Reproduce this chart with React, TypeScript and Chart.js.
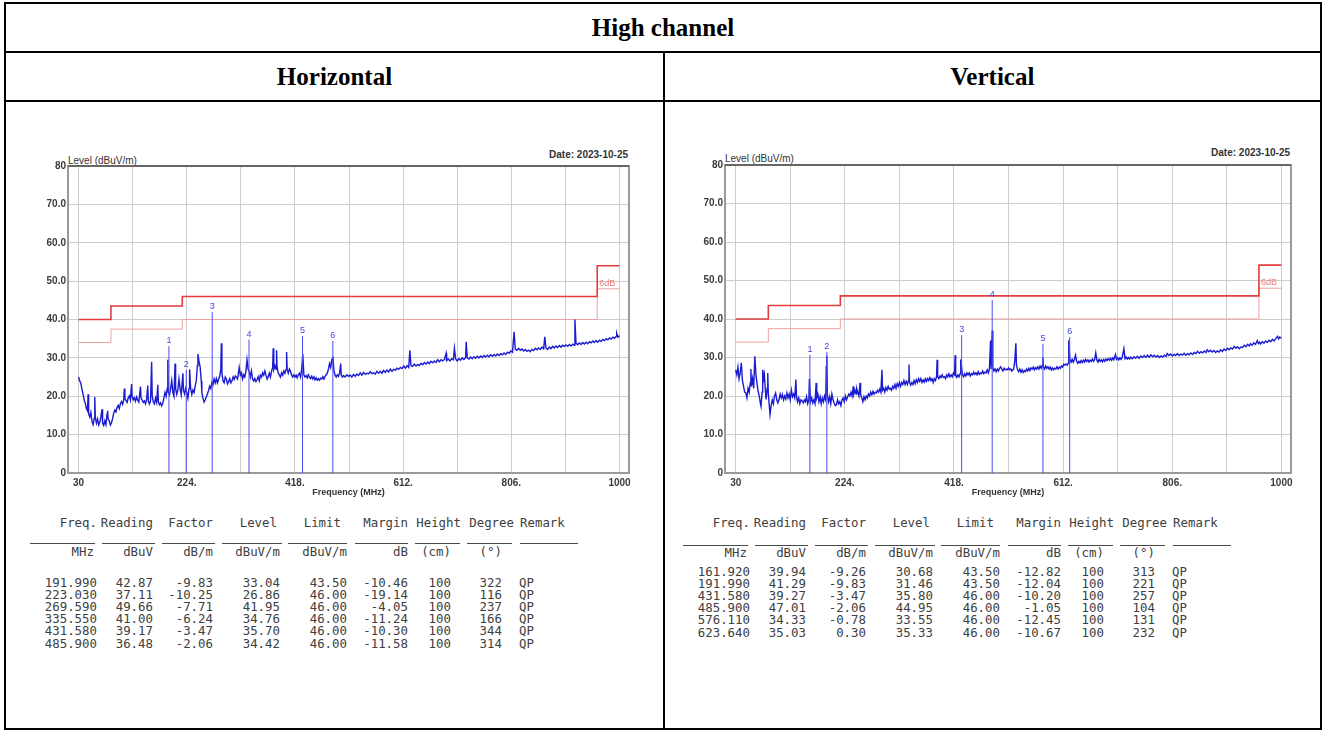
import React, { useEffect, useRef } from 'react';
import { Chart, registerables } from 'chart.js';
Chart.register(...registerables);

type Pt = [number, number];

// ---------- data ----------
const TITLE = 'High channel';
const POLARITIES = ['Horizontal', 'Vertical'];
const DATE_TEXT = 'Date: 2023-10-25';
const Y_TITLE = 'Level (dBuV/m)';
const X_TITLE = 'Frequency (MHz)';

const X_GRID = [30, 127, 224, 321, 418, 515, 612, 709, 806, 903, 1000];
const X_LABELS: Record<number, string> = { 30: '30', 224: '224.', 418: '418.', 612: '612.', 806: '806.', 1000: '1000' };
const Y_TICKS = [0, 10, 20, 30, 40, 50, 60, 70, 80];

const LIMIT: Pt[] = [[30, 40], [88, 40], [88, 43.5], [216, 43.5], [216, 46], [960, 46], [960, 54], [1000, 54]];
const LIMIT_6DB: Pt[] = [[30, 34], [88, 34], [88, 37.5], [216, 37.5], [216, 40], [960, 40], [960, 48], [1000, 48]];

const TABLE_HEAD = ['Freq.', 'Reading', 'Factor', 'Level', 'Limit', 'Margin', 'Height', 'Degree', 'Remark'];
const TABLE_UNITS = ['MHz', 'dBuV', 'dB/m', 'dBuV/m', 'dBuV/m', 'dB', '(cm)', '(°)'];

const H_ROWS = [
  ['191.990', '42.87', '-9.83', '33.04', '43.50', '-10.46', '100', '322', 'QP'],
  ['223.030', '37.11', '-10.25', '26.86', '46.00', '-19.14', '100', '116', 'QP'],
  ['269.590', '49.66', '-7.71', '41.95', '46.00', '-4.05', '100', '237', 'QP'],
  ['335.550', '41.00', '-6.24', '34.76', '46.00', '-11.24', '100', '166', 'QP'],
  ['431.580', '39.17', '-3.47', '35.70', '46.00', '-10.30', '100', '344', 'QP'],
  ['485.900', '36.48', '-2.06', '34.42', '46.00', '-11.58', '100', '314', 'QP'],
];
const V_ROWS = [
  ['161.920', '39.94', '-9.26', '30.68', '43.50', '-12.82', '100', '313', 'QP'],
  ['191.990', '41.29', '-9.83', '31.46', '43.50', '-12.04', '100', '221', 'QP'],
  ['431.580', '39.27', '-3.47', '35.80', '46.00', '-10.20', '100', '257', 'QP'],
  ['485.900', '47.01', '-2.06', '44.95', '46.00', '-1.05', '100', '104', 'QP'],
  ['576.110', '34.33', '-0.78', '33.55', '46.00', '-12.45', '100', '131', 'QP'],
  ['623.640', '35.03', '0.30', '35.33', '46.00', '-10.67', '100', '232', 'QP'],
];

const H_TRACE: Pt[] = [
  [30, 25.0], [32, 24.0], [34, 23.4], [36, 21.8], [38, 20.6], [40, 19.0], [42, 18.2], [44, 16.8], [46, 16.2], [47, 20.5],
  [48, 15.4], [50, 14.6], [52, 15.8], [54, 13.4], [56, 12.6], [58, 14.2], [59, 19.8], [60, 14.4], [62, 13.0], [64, 14.1],
  [66, 12.5], [68, 13.2], [70, 14.6], [72, 16.6], [73, 13.0], [75, 12.4], [77, 13.6], [79, 12.6], [81, 15.4], [82, 16.2],
  [83, 14.0], [85, 13.6], [87, 12.5], [89, 13.1], [91, 14.2], [93, 15.6], [95, 16.4], [97, 15.9], [99, 17.1], [101, 17.6],
  [103, 16.8], [105, 18.1], [107, 18.6], [109, 17.9], [111, 19.1], [112, 22.0], [113, 19.4], [115, 18.9], [117, 18.4], [119, 19.6],
  [121, 20.1], [123, 19.0], [125, 23.2], [126, 20.0], [128, 19.1], [130, 19.6], [132, 18.7], [134, 19.8], [136, 19.0], [138, 18.5],
  [141, 22.5], [142, 19.5], [144, 19.0], [146, 18.4], [148, 18.8], [150, 18.0], [152, 19.2], [154, 22.8], [155, 18.8], [157, 18.0],
  [159, 18.8], [161, 29.0], [162, 20.0], [164, 18.5], [166, 18.0], [168, 19.5], [170, 18.4], [172, 23.0], [173, 18.6], [175, 17.8],
  [177, 18.3], [179, 17.5], [181, 18.2], [183, 19.6], [185, 21.0], [187, 20.0], [189, 22.1], [190, 29.5], [191, 21.0], [193, 20.4],
  [195, 22.0], [197, 24.1], [199, 21.0], [201, 20.0], [203, 28.5], [204, 22.0], [206, 20.5], [208, 21.6], [210, 24.5], [212, 22.0],
  [214, 20.4], [217, 26.0], [218, 21.5], [220, 20.6], [222, 22.1], [224, 21.0], [226, 19.5], [228, 22.0], [229, 27.0], [231, 22.0],
  [233, 20.5], [235, 21.6], [237, 21.0], [239, 22.6], [241, 24.0], [243, 28.0], [244, 31.0], [246, 29.0], [248, 27.6], [250, 24.0],
  [251, 21.0], [253, 19.5], [255, 18.5], [257, 19.1], [259, 19.8], [261, 20.6], [263, 21.5], [265, 22.6], [267, 22.0], [269, 23.6],
  [271, 23.0], [273, 24.5], [275, 23.5], [277, 24.6], [279, 23.5], [281, 24.5], [283, 25.1], [285, 27.0], [286, 33.8], [287, 26.0],
  [289, 24.0], [291, 23.5], [293, 25.0], [295, 24.5], [297, 23.2], [299, 23.8], [301, 24.6], [303, 23.5], [305, 24.0], [307, 25.0],
  [309, 24.4], [311, 25.3], [313, 25.0], [315, 24.5], [318, 27.5], [320, 25.5], [322, 26.1], [324, 24.5], [326, 25.6], [328, 25.0],
  [330, 26.5], [332, 29.5], [334, 27.0], [336, 26.5], [338, 25.0], [340, 26.6], [342, 24.5], [344, 24.0], [346, 24.6], [348, 23.8],
  [350, 24.3], [352, 25.1], [354, 24.0], [356, 25.5], [358, 25.0], [360, 26.1], [362, 25.5], [364, 26.6], [366, 25.5], [368, 24.5],
  [370, 25.1], [372, 26.0], [374, 25.0], [376, 26.5], [378, 27.6], [379, 32.5], [380, 27.0], [382, 28.0], [384, 27.0], [385, 32.0],
  [386, 27.5], [388, 26.0], [390, 25.5], [392, 25.0], [394, 26.1], [396, 25.5], [398, 26.6], [400, 26.0], [402, 27.0], [403, 31.5],
  [404, 27.0], [406, 26.0], [408, 27.1], [410, 26.5], [412, 25.5], [414, 25.0], [416, 25.6], [418, 25.0], [420, 25.5], [422, 24.8],
  [424, 25.6], [426, 26.0], [428, 25.0], [430, 27.0], [432, 31.0], [434, 25.5], [436, 25.0], [438, 25.4], [440, 24.8], [442, 25.6],
  [444, 25.0], [446, 24.6], [448, 25.2], [450, 24.5], [452, 25.1], [454, 24.3], [456, 24.8], [458, 24.2], [460, 24.6], [462, 24.2],
  [464, 24.7], [466, 24.5], [468, 25.1], [470, 24.5], [472, 25.2], [474, 25.6], [476, 26.0], [478, 27.1], [480, 28.5], [482, 27.5],
  [484, 29.5], [486, 30.0], [488, 26.5], [490, 25.5], [492, 25.0], [494, 25.6], [496, 25.2], [498, 26.0], [500, 28.5], [501, 25.5],
  [503, 25.0], [505, 25.4], [508, 25.0], [511, 25.6], [514, 25.2], [517, 25.5], [520, 25.0], [523, 25.7], [526, 25.2], [529, 25.8],
  [532, 25.4], [535, 26.1], [538, 25.5], [541, 26.2], [544, 25.7], [547, 26.0], [550, 25.8], [553, 26.4], [556, 25.9], [559, 26.1],
  [562, 25.8], [565, 26.5], [568, 26.0], [571, 26.5], [574, 26.0], [577, 26.7], [580, 26.2], [583, 26.8], [586, 26.3], [589, 27.1],
  [592, 26.5], [595, 27.0], [598, 26.8], [601, 27.3], [604, 27.0], [607, 27.5], [610, 27.2], [613, 27.9], [616, 27.3], [619, 28.0],
  [622, 27.5], [624, 32.0], [626, 28.0], [629, 27.8], [632, 28.4], [635, 27.9], [638, 28.3], [641, 28.0], [644, 28.6], [647, 28.2],
  [650, 28.8], [653, 28.4], [656, 28.9], [659, 28.5], [662, 29.1], [665, 28.7], [668, 29.2], [671, 28.8], [674, 29.5], [677, 29.0],
  [680, 29.5], [683, 29.2], [686, 29.6], [689, 31.2], [690, 29.3], [693, 29.7], [696, 29.2], [699, 29.8], [702, 29.5], [704, 32.5],
  [706, 29.8], [709, 29.2], [712, 29.8], [715, 29.4], [718, 30.0], [721, 29.6], [724, 30.1], [725, 34.2], [727, 30.0], [730, 29.7],
  [733, 30.2], [736, 29.8], [739, 30.3], [742, 29.9], [745, 30.4], [748, 30.0], [751, 30.5], [754, 30.1], [757, 30.6], [760, 30.2],
  [763, 30.7], [766, 30.3], [769, 30.8], [772, 30.4], [775, 30.9], [778, 30.5], [781, 31.0], [784, 30.6], [787, 31.1], [790, 30.8],
  [793, 31.3], [796, 30.9], [799, 31.5], [802, 31.2], [805, 31.8], [808, 31.5], [811, 36.8], [813, 32.3], [816, 32.0], [819, 32.5],
  [822, 32.0], [825, 32.3], [828, 31.8], [831, 32.2], [834, 31.7], [837, 32.0], [840, 31.6], [843, 32.2], [846, 31.9], [849, 32.5],
  [852, 32.1], [855, 32.6], [858, 32.2], [861, 32.8], [864, 32.4], [866, 35.5], [868, 32.6], [871, 32.2], [874, 32.8], [877, 32.4],
  [880, 33.0], [883, 32.6], [886, 33.1], [889, 32.7], [892, 33.2], [895, 32.8], [898, 33.3], [901, 33.0], [904, 33.4], [907, 33.0],
  [910, 33.5], [913, 33.1], [916, 33.6], [919, 33.3], [920, 40.0], [922, 33.8], [925, 33.4], [928, 33.9], [931, 33.5], [934, 34.0],
  [937, 33.6], [940, 34.1], [943, 33.7], [946, 34.2], [949, 33.9], [952, 34.4], [955, 34.0], [958, 34.5], [961, 34.1], [964, 34.6],
  [967, 34.3], [970, 34.8], [973, 34.5], [976, 35.0], [979, 34.7], [982, 35.2], [985, 34.9], [988, 35.4], [991, 35.1], [994, 35.6],
  [995, 36.4], [997, 35.4], [1000, 35.8],
];

const V_TRACE: Pt[] = [
  [30, 26.8], [32, 25.5], [34, 27.5], [36, 24.5], [38, 26.0], [40, 28.6], [42, 24.0], [44, 22.5], [46, 21.0], [48, 20.8],
  [50, 19.5], [52, 22.0], [54, 21.0], [56, 23.5], [57, 27.0], [58, 22.5], [60, 24.5], [62, 22.0], [64, 30.3], [66, 25.5],
  [67, 24.3], [69, 22.0], [71, 20.5], [72, 19.9], [74, 18.0], [75, 17.3], [77, 21.0], [78, 26.8], [80, 24.5], [81, 25.5],
  [83, 21.0], [84, 19.1], [86, 22.0], [87, 26.0], [88, 20.5], [90, 17.0], [91, 15.2], [93, 17.5], [95, 19.0], [97, 18.0],
  [99, 20.0], [101, 20.8], [103, 19.0], [105, 18.2], [107, 19.0], [109, 20.5], [111, 19.5], [113, 20.4], [115, 19.0], [117, 20.0],
  [119, 19.2], [121, 20.8], [123, 19.5], [125, 20.5], [127, 19.0], [129, 21.5], [131, 19.8], [133, 20.5], [135, 19.5], [137, 24.3],
  [138, 20.0], [140, 18.5], [142, 19.5], [144, 18.0], [146, 19.0], [148, 18.7], [150, 18.2], [152, 19.0], [154, 18.5], [156, 19.8],
  [158, 18.0], [160, 19.0], [161, 24.5], [163, 18.5], [165, 19.5], [167, 18.2], [169, 19.0], [171, 18.0], [173, 23.4], [174, 19.5],
  [176, 20.5], [178, 18.5], [180, 19.8], [182, 18.0], [184, 19.5], [186, 18.5], [188, 20.0], [190, 19.0], [191, 27.6], [192, 30.5],
  [193, 20.0], [195, 18.5], [197, 19.8], [199, 18.0], [201, 20.5], [203, 19.0], [205, 18.2], [207, 17.5], [209, 17.7], [211, 19.0],
  [213, 18.0], [215, 18.5], [217, 17.5], [219, 19.0], [221, 19.5], [223, 18.5], [225, 20.0], [227, 19.0], [229, 19.8], [231, 20.5],
  [233, 20.0], [235, 21.0], [237, 20.0], [239, 22.5], [240, 20.5], [242, 21.5], [244, 20.5], [245, 22.0], [247, 21.0], [249, 20.0],
  [251, 23.4], [252, 20.5], [254, 19.5], [256, 18.5], [258, 19.8], [260, 19.0], [262, 20.0], [264, 19.5], [266, 20.5], [268, 20.0],
  [270, 21.0], [272, 20.3], [274, 21.2], [276, 20.5], [278, 21.0], [280, 20.8], [282, 21.5], [284, 21.0], [286, 21.8], [288, 21.0],
  [290, 26.8], [291, 21.5], [293, 22.0], [295, 21.0], [297, 22.2], [299, 21.5], [301, 22.5], [303, 21.8], [305, 22.0], [307, 21.5],
  [309, 22.5], [311, 22.0], [313, 23.0], [315, 22.0], [317, 23.2], [319, 22.5], [321, 23.5], [323, 22.5], [325, 23.5], [327, 23.0],
  [329, 24.0], [331, 23.0], [333, 23.8], [335, 23.0], [337, 24.0], [338, 28.2], [339, 23.5], [341, 22.8], [343, 23.5], [345, 23.0],
  [347, 24.0], [349, 23.2], [351, 24.2], [353, 23.5], [355, 24.5], [357, 23.8], [359, 24.5], [361, 23.5], [363, 24.2], [365, 23.6],
  [367, 24.5], [369, 23.8], [371, 24.5], [373, 24.0], [375, 24.8], [377, 24.0], [379, 24.5], [381, 23.5], [383, 24.5], [385, 24.0],
  [387, 25.0], [388, 29.4], [389, 25.0], [391, 24.5], [393, 25.2], [395, 24.8], [397, 25.5], [399, 24.8], [401, 25.0], [403, 24.5],
  [405, 25.5], [407, 25.0], [409, 25.8], [411, 25.0], [413, 25.5], [415, 25.0], [417, 26.0], [419, 25.5], [420, 30.6], [421, 25.5],
  [423, 24.8], [425, 25.5], [427, 25.0], [429, 25.8], [430, 29.5], [433, 25.5], [435, 25.0], [437, 25.8], [439, 25.2], [441, 26.0],
  [443, 25.5], [445, 26.0], [447, 25.2], [449, 25.8], [451, 25.5], [453, 26.2], [455, 25.6], [457, 26.0], [459, 25.5], [461, 26.3],
  [463, 25.6], [465, 26.0], [467, 25.8], [469, 26.5], [471, 25.8], [473, 26.2], [475, 26.0], [477, 26.8], [479, 26.0], [481, 27.0],
  [483, 34.4], [484, 27.0], [486, 37.0], [487, 27.5], [489, 26.5], [491, 27.0], [493, 26.3], [495, 27.0], [497, 26.5], [499, 27.2],
  [501, 27.6], [503, 27.0], [505, 26.5], [507, 27.2], [509, 26.8], [511, 27.0], [513, 26.8], [515, 27.3], [517, 26.8], [519, 27.0],
  [521, 26.5], [524, 27.0], [526, 29.0], [528, 33.7], [529, 28.0], [531, 26.8], [533, 26.3], [535, 27.0], [537, 26.2], [539, 26.8],
  [541, 26.1], [543, 26.6], [545, 26.3], [547, 27.0], [549, 26.5], [551, 27.2], [553, 26.6], [555, 27.3], [557, 27.0], [559, 27.5],
  [561, 26.8], [563, 27.4], [565, 27.0], [567, 27.6], [569, 27.0], [571, 27.8], [573, 27.2], [575, 28.0], [576, 30.0], [577, 27.5],
  [579, 27.0], [581, 27.8], [583, 27.2], [585, 27.6], [587, 27.0], [589, 27.5], [591, 26.8], [593, 27.3], [595, 26.8], [597, 27.2],
  [599, 27.0], [601, 27.6], [603, 27.0], [605, 27.5], [607, 27.2], [609, 27.8], [611, 27.5], [613, 28.2], [615, 28.0], [617, 28.3],
  [619, 28.0], [621, 28.5], [622, 34.5], [624, 29.5], [626, 28.8], [628, 29.5], [630, 28.8], [632, 29.5], [634, 30.6], [636, 29.0],
  [638, 28.5], [640, 29.0], [642, 28.6], [644, 29.2], [646, 28.7], [648, 29.3], [650, 28.8], [652, 29.5], [654, 29.0], [656, 29.4],
  [658, 28.8], [660, 29.3], [662, 29.0], [664, 29.6], [666, 29.0], [668, 29.5], [670, 31.2], [672, 29.3], [674, 28.8], [676, 29.5],
  [678, 29.0], [680, 29.4], [682, 28.9], [684, 29.5], [686, 29.0], [688, 29.6], [690, 29.2], [692, 29.7], [694, 29.3], [696, 29.8],
  [698, 29.3], [700, 29.9], [702, 29.4], [705, 30.8], [707, 29.5], [709, 29.9], [711, 29.4], [713, 29.9], [715, 29.5], [717, 30.0],
  [720, 32.3], [722, 29.7], [724, 30.1], [726, 29.6], [728, 30.0], [730, 29.6], [732, 30.1], [735, 29.7], [738, 30.2], [741, 29.8],
  [744, 30.3], [747, 29.8], [750, 30.4], [753, 30.0], [756, 30.5], [759, 30.0], [762, 30.6], [765, 30.1], [768, 30.7], [771, 30.2],
  [774, 30.6], [777, 30.1], [780, 30.5], [783, 30.0], [786, 30.4], [789, 30.1], [792, 30.6], [795, 30.3], [797, 31.0], [800, 30.5],
  [803, 30.9], [806, 30.4], [809, 30.8], [812, 30.5], [815, 31.0], [818, 30.5], [821, 30.9], [824, 30.6], [827, 31.1], [830, 30.6],
  [833, 31.0], [836, 30.7], [839, 31.2], [842, 30.8], [845, 31.3], [848, 31.0], [851, 31.6], [854, 31.1], [857, 31.5], [860, 31.2],
  [863, 31.7], [866, 31.3], [868, 32.0], [871, 31.5], [874, 31.9], [877, 31.4], [880, 31.8], [883, 31.3], [886, 31.7], [889, 31.4],
  [892, 32.0], [895, 31.6], [898, 32.2], [901, 31.8], [904, 32.4], [907, 32.0], [910, 32.5], [913, 32.2], [916, 32.9], [919, 32.4],
  [922, 32.8], [925, 32.3], [928, 32.7], [931, 32.6], [934, 33.2], [937, 32.8], [940, 33.4], [943, 33.0], [945, 33.6], [948, 33.2],
  [951, 33.8], [954, 33.4], [957, 34.4], [959, 33.6], [961, 34.0], [963, 33.5], [966, 34.1], [969, 33.7], [972, 34.3], [975, 33.9],
  [978, 34.5], [981, 34.1], [984, 34.7], [987, 34.3], [990, 34.9], [993, 35.5], [995, 34.8], [997, 35.3], [1000, 35.0],
];

// ---------- chart ----------
const X_MIN = 11;
const X_MAX = 1017;
const SANS = '"Liberation Sans", Arial, sans-serif';
const MONO = '"DejaVu Sans Mono", "Liberation Mono", monospace';

const decorPlugin = {
  id: 'decor',
  beforeDatasetsDraw(chart: any) {
    const { ctx, chartArea } = chart;
    const { left, top, right, bottom } = chartArea;
    ctx.save();
    ctx.strokeStyle = '#9a9a9a';
    ctx.lineWidth = 2;
    ctx.strokeRect(left, top, right - left, bottom - top);
    ctx.strokeStyle = '#555555';
    ctx.lineWidth = 1.5;
    ctx.beginPath();
    ctx.moveTo(left, top);
    ctx.lineTo(right, top);
    ctx.stroke();
    ctx.restore();
  },
  afterDatasetsDraw(chart: any, _args: any, opts: any) {
    const { ctx } = chart;
    const xs = chart.scales.x;
    const ys = chart.scales.y;
    ctx.save();
    ctx.font = `9px ${SANS}`;
    ctx.fillStyle = '#4646e0';
    ctx.textAlign = 'center';
    ctx.textBaseline = 'bottom';
    (opts.markers || []).forEach((m: Pt, i: number) => {
      ctx.fillText(String(i + 1), xs.getPixelForValue(m[0]), ys.getPixelForValue(m[1]) - 1);
    });
    ctx.fillStyle = '#ef7a7a';
    ctx.textAlign = 'left';
    ctx.font = `9px ${SANS}`;
    ctx.fillText('6dB', xs.getPixelForValue(LIMIT[6][0]) + 2, ys.getPixelForValue(LIMIT_6DB[6][1]) - 1);
    ctx.restore();
  },
};

function markerSeries(markers: Pt[]) {
  const out: { x: number; y: number | null }[] = [];
  markers.forEach(([f, v]) => {
    out.push({ x: f, y: 0 }, { x: f, y: v }, { x: f, y: null });
  });
  return out;
}

interface ChartProps {
  left: number;
  top: number;
  width: number;
  height: number;
  area: { l: number; t: number; r: number; b: number };
  trace: Pt[];
  rows: string[][];
}

function EmiChart({ left, top, width, height, area, trace, rows }: ChartProps) {
  const ref = useRef<HTMLCanvasElement | null>(null);
  useEffect(() => {
    if (!ref.current) return;
    const markers: Pt[] = rows.map((r) => [parseFloat(r[0]), parseFloat(r[3])]);
    const tickFont = { family: SANS, size: 10, weight: 'bold' as const };
    const chart = new Chart(ref.current, {
      type: 'line',
      data: {
        datasets: [
          {
            label: 'markers',
            data: markerSeries(markers) as any,
            borderColor: '#4a4af2',
            borderWidth: 1,
            pointRadius: 0,
            spanGaps: false,
            order: 0,
          },
          {
            label: 'level',
            data: trace.map(([x, y]) => ({ x, y })),
            borderColor: '#1a1ad0',
            borderWidth: 1.4,
            pointRadius: 0,
            tension: 0,
            order: 1,
          },
          {
            label: 'limit',
            data: LIMIT.map(([x, y]) => ({ x, y })),
            borderColor: '#e23c3c',
            borderWidth: 1.6,
            pointRadius: 0,
            order: 2,
          },
          {
            label: 'limit-6dB',
            data: LIMIT_6DB.map(([x, y]) => ({ x, y })),
            borderColor: '#f0a0a0',
            borderWidth: 1,
            pointRadius: 0,
            order: 3,
          },
        ],
      },
      options: {
        animation: false,
        responsive: false,
        maintainAspectRatio: false,
        events: [],
        layout: { padding: { left: 0, top: area.t, right: width - area.r, bottom: 0 } },
        plugins: {
          legend: { display: false },
          tooltip: { enabled: false },
          decor: { markers },
        } as any,
        scales: {
          x: {
            type: 'linear',
            min: X_MIN,
            max: X_MAX,
            afterBuildTicks: (s: any) => {
              s.ticks = X_GRID.map((v) => ({ value: v }));
            },
            afterFit: (s: any) => {
              s.height = height - area.b;
              s.paddingLeft = 0;
              s.paddingRight = 0;
            },
            ticks: {
              autoSkip: false,
              maxRotation: 0,
              padding: 4,
              color: '#3a3a3a',
              font: tickFont,
              callback: (v: any) => X_LABELS[Number(v)] ?? '',
            },
            grid: { color: '#cdcdcd', lineWidth: 1, drawTicks: false },
            border: { display: false },
            title: {
              display: true,
              text: X_TITLE,
              color: '#333333',
              font: { family: SANS, size: 9, weight: 'bold' },
              padding: { top: 0, bottom: 13 },
            },
          },
          y: {
            min: 0,
            max: 80,
            afterBuildTicks: (s: any) => {
              s.ticks = Y_TICKS.map((v) => ({ value: v }));
            },
            afterFit: (s: any) => {
              s.width = area.l;
              s.paddingTop = 0;
              s.paddingBottom = 0;
            },
            ticks: {
              padding: 2,
              color: '#3a3a3a',
              font: tickFont,
              callback: (v: any) => {
                const n = Number(v);
                if (n === 0 || n === 80) return String(n);
                return n.toFixed(1);
              },
            },
            grid: { color: '#cdcdcd', lineWidth: 1, drawTicks: false },
            border: { display: false },
          },
        },
      } as any,
      plugins: [decorPlugin],
    });
    return () => chart.destroy();
  }, []);
  return (
    <canvas
      ref={ref}
      width={width}
      height={height}
      style={{ position: 'absolute', left, top, width, height }}
    />
  );
}

// ---------- table ----------
const HEAD_RIGHT = [97, 153, 213, 277, 341, 408, 461, 514];
const UNIT_RIGHT = [94, 153, 213, 280, 347, 408, 451, 502];
const DATA_RIGHT = [97, 153, 213, 280, 347, 408, 451, 502];
const REMARK_LEFT = 519;
const RULES: [number, number][] = [[30, 95], [102, 155], [162, 215], [222, 282], [288, 347], [355, 408], [415, 460], [467, 512], [520, 578]];

function Txt({ x, y, text, align = 'right' }: { x: number; y: number; text: string; align?: 'right' | 'left' }) {
  const w = 140;
  return (
    <span
      style={{
        position: 'absolute',
        left: align === 'right' ? x - w : x,
        width: w,
        top: y - 8,
        height: 16,
        lineHeight: '16px',
        textAlign: align,
        whiteSpace: 'pre',
        fontFamily: MONO,
        fontSize: 12.4,
        color: '#404040',
      }}
    >
      {text}
    </span>
  );
}

function DataTable({ dx, rows, unitY, lineY, rowY0, step }: { dx: number; rows: string[][]; unitY: number; lineY: number; rowY0: number; step: number }) {
  const headY = 523;
  return (
    <>
      {TABLE_HEAD.map((h, i) =>
        i < 8 ? <Txt key={'h' + i} x={dx + HEAD_RIGHT[i]} y={headY} text={h} /> : <Txt key={'h' + i} x={dx + REMARK_LEFT + 1} y={headY} text={h} align="left" />
      )}
      {RULES.map(([a, b], i) => (
        <div key={'r' + i} style={{ position: 'absolute', left: dx + a, top: lineY, width: b - a, height: 1, background: '#4a4a4a' }} />
      ))}
      {TABLE_UNITS.map((u, i) => (
        <Txt key={'u' + i} x={dx + UNIT_RIGHT[i]} y={unitY} text={u} />
      ))}
      {rows.map((r, ri) =>
        r.map((c, ci) =>
          ci < 8 ? (
            <Txt key={ri + '-' + ci} x={dx + DATA_RIGHT[ci]} y={rowY0 + ri * step} text={c} />
          ) : (
            <Txt key={ri + '-' + ci} x={dx + REMARK_LEFT} y={rowY0 + ri * step} text={c} align="left" />
          )
        )
      )}
    </>
  );
}

// ---------- page ----------
const line = (l: number, t: number, w: number, h: number) => (
  <div style={{ position: 'absolute', left: l, top: t, width: w, height: h, background: '#000' }} />
);

export default function App() {
  const headStyle: React.CSSProperties = {
    position: 'absolute',
    display: 'flex',
    alignItems: 'center',
    justifyContent: 'center',
    fontFamily: '"Liberation Serif", "Times New Roman", serif',
    fontWeight: 'bold',
    fontSize: 25,
    color: '#000',
  };
  const smallLabel: React.CSSProperties = {
    position: 'absolute',
    fontFamily: SANS,
    fontSize: 10,
    lineHeight: '12px',
    color: '#333',
    whiteSpace: 'nowrap',
  };
  return (
    <div style={{ position: 'absolute', left: 0, top: 0, width: 1322, height: 731, background: '#fff', overflow: 'hidden' }}>
      {/* table frame */}
      {line(4, 2, 1318, 2)}
      {line(4, 728, 1318, 2)}
      {line(4, 2, 2, 728)}
      {line(1320, 2, 2, 728)}
      {line(4, 51, 1318, 2)}
      {line(4, 100, 1318, 2)}
      {line(663, 51, 2, 679)}

      <div style={{ ...headStyle, left: 6, top: 4, width: 1314, height: 47 }}>{TITLE}</div>
      <div style={{ ...headStyle, left: 6, top: 53, width: 657, height: 47 }}>{POLARITIES[0]}</div>
      <div style={{ ...headStyle, left: 665, top: 53, width: 655, height: 47 }}>{POLARITIES[1]}</div>

      {/* left chart */}
      <span style={{ ...smallLabel, left: 68, top: 155 }}>{Y_TITLE}</span>
      <span style={{ ...smallLabel, left: 528, width: 100, textAlign: 'right', top: 149, fontWeight: 'bold' }}>{DATE_TEXT}</span>
      <EmiChart left={20} top={139} width={630} height={372} area={{ l: 48, t: 27, r: 609, b: 334 }} trace={H_TRACE} rows={H_ROWS} />

      {/* right chart */}
      <span style={{ ...smallLabel, left: 725, top: 153 }}>{Y_TITLE}</span>
      <span style={{ ...smallLabel, left: 1190, width: 100, textAlign: 'right', top: 147, fontWeight: 'bold' }}>{DATE_TEXT}</span>
      <EmiChart left={677} top={139} width={630} height={372} area={{ l: 48, t: 26, r: 614, b: 334 }} trace={V_TRACE} rows={V_ROWS} />

      <DataTable dx={0} rows={H_ROWS} unitY={552} lineY={543} rowY0={583} step={12.1} />
      <DataTable dx={653} rows={V_ROWS} unitY={553} lineY={545} rowY0={572} step={12.1} />
    </div>
  );
}
